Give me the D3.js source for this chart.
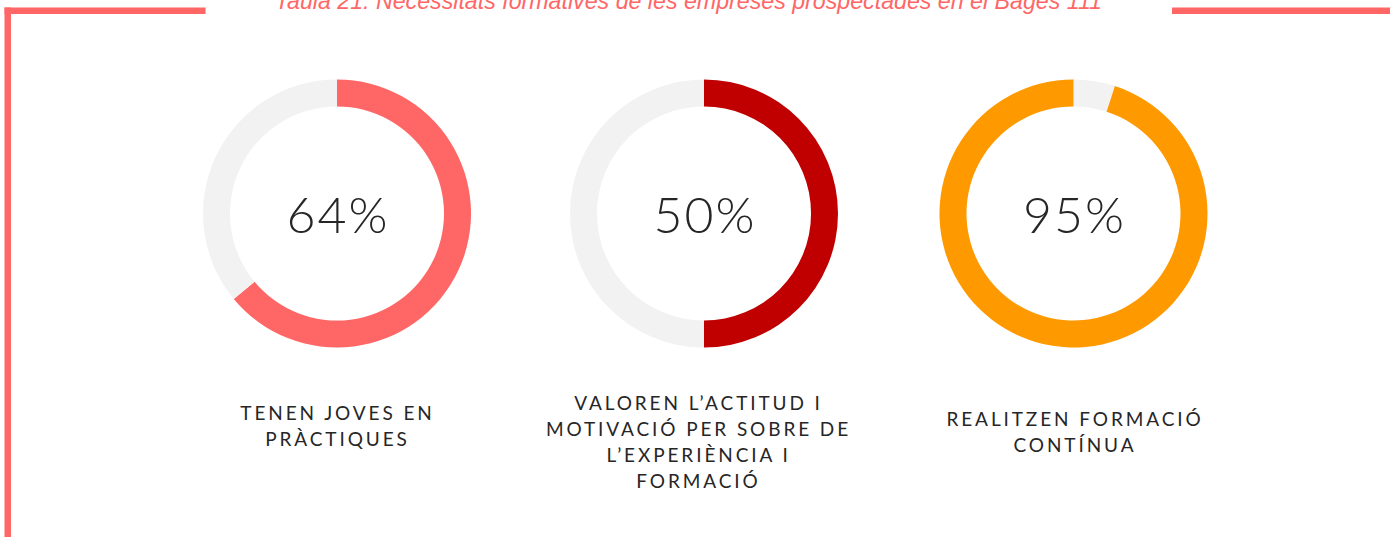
<!DOCTYPE html>
<html>
<head>
<meta charset="utf-8">
<script src="https://cdn.jsdelivr.net/npm/d3@7"></script>
<style>
  html, body { margin: 0; padding: 0; background: #ffffff; }
  svg { display: block; }
</style>
</head>
<body>
<svg id="chart" width="1390" height="537"></svg>
<script>
// Chart content
const titleText = "Taula 21: Necessitats formatives de les empreses prospectades en el Bages 111";
const categories = [
  ["TENEN JOVES EN", "PRÀCTIQUES"],
  ["VALOREN L’ACTITUD I", "MOTIVACIÓ PER SOBRE DE", "L’EXPERIÈNCIA I", "FORMACIÓ"],
  ["REALITZEN FORMACIÓ", "CONTÍNUA"]
];
const values = [64, 50, 95];
const valueLabels = ["64%", "50%", "95%"];
// whether the grey remainder is drawn before the coloured share
const remainderFirst = [false, false, true];

// Appearance and placement
const colors = ["#ff6666", "#c00000", "#ff9900"];
const trackColor = "#f2f2f2";
const frameColor = "#ff6666";
const W = 1390, H = 537;
const centersX = [337, 704, 1073.5];
const centerY = 213.5;
const labelX = [337.5, 698.5, 1075];
const labelTop = [419.5, 409.5, 425.5];
const lineGap = 26;

const svg = d3.select("#chart");

// Frame: broken top rule and left rule
const frame = svg.append("g").attr("fill", frameColor);
frame.append("rect").attr("x", 4.5).attr("y", 7.5).attr("width", 201).attr("height", 6.5);
frame.append("rect").attr("x", 4.5).attr("y", 7.5).attr("width", 6.5).attr("height", H);
frame.append("rect").attr("x", 1172).attr("y", 7.5).attr("width", W - 1172).attr("height", 6.5);

// Title (partly above the top edge)
svg.append("text")
  .attr("x", 688.5)
  .attr("y", 9)
  .attr("text-anchor", "middle")
  .attr("fill", frameColor)
  .attr("font-family", "'Liberation Sans', Arial, sans-serif")
  .attr("font-style", "italic")
  .attr("font-size", 23.2)
  .text(titleText);

const angle = d3.scaleLinear().domain([0, 100]).range([0, 2 * Math.PI]);
const arc = d3.arc().innerRadius(107).outerRadius(134);

values.forEach((v, i) => {
  const segs = remainderFirst[i]
    ? [{ v: 100 - v, fill: trackColor }, { v: v, fill: colors[i] }]
    : [{ v: v, fill: colors[i] }, { v: 100 - v, fill: trackColor }];

  const pie = d3.pie().sort(null).value(d => d.v)
    .startAngle(angle(0)).endAngle(angle(100));

  const g = svg.append("g").attr("transform", `translate(${centersX[i]},${centerY})`);
  g.selectAll("path")
    .data(pie(segs))
    .join("path")
    .attr("d", arc)
    .attr("fill", d => d.data.fill);

  g.append("text")
    .attr("x", 1)
    .attr("y", 19.5)
    .attr("text-anchor", "middle")
    .attr("fill", "#262626")
    .attr("font-family", "Lato, 'Open Sans', sans-serif")
    .attr("font-weight", 300)
    .attr("font-size", 50)
    .attr("letter-spacing", "2px")
    .text(valueLabels[i]);

  const lab = svg.append("text")
    .attr("text-anchor", "middle")
    .attr("fill", "#262626")
    .attr("font-family", "Lato, 'Open Sans', sans-serif")
    .attr("font-size", 19)
    .attr("letter-spacing", "2.9px");
  categories[i].forEach((line, k) => {
    lab.append("tspan")
      .attr("x", labelX[i])
      .attr("y", labelTop[i] + k * lineGap)
      .text(line);
  });
});
</script>
</body>
</html>
